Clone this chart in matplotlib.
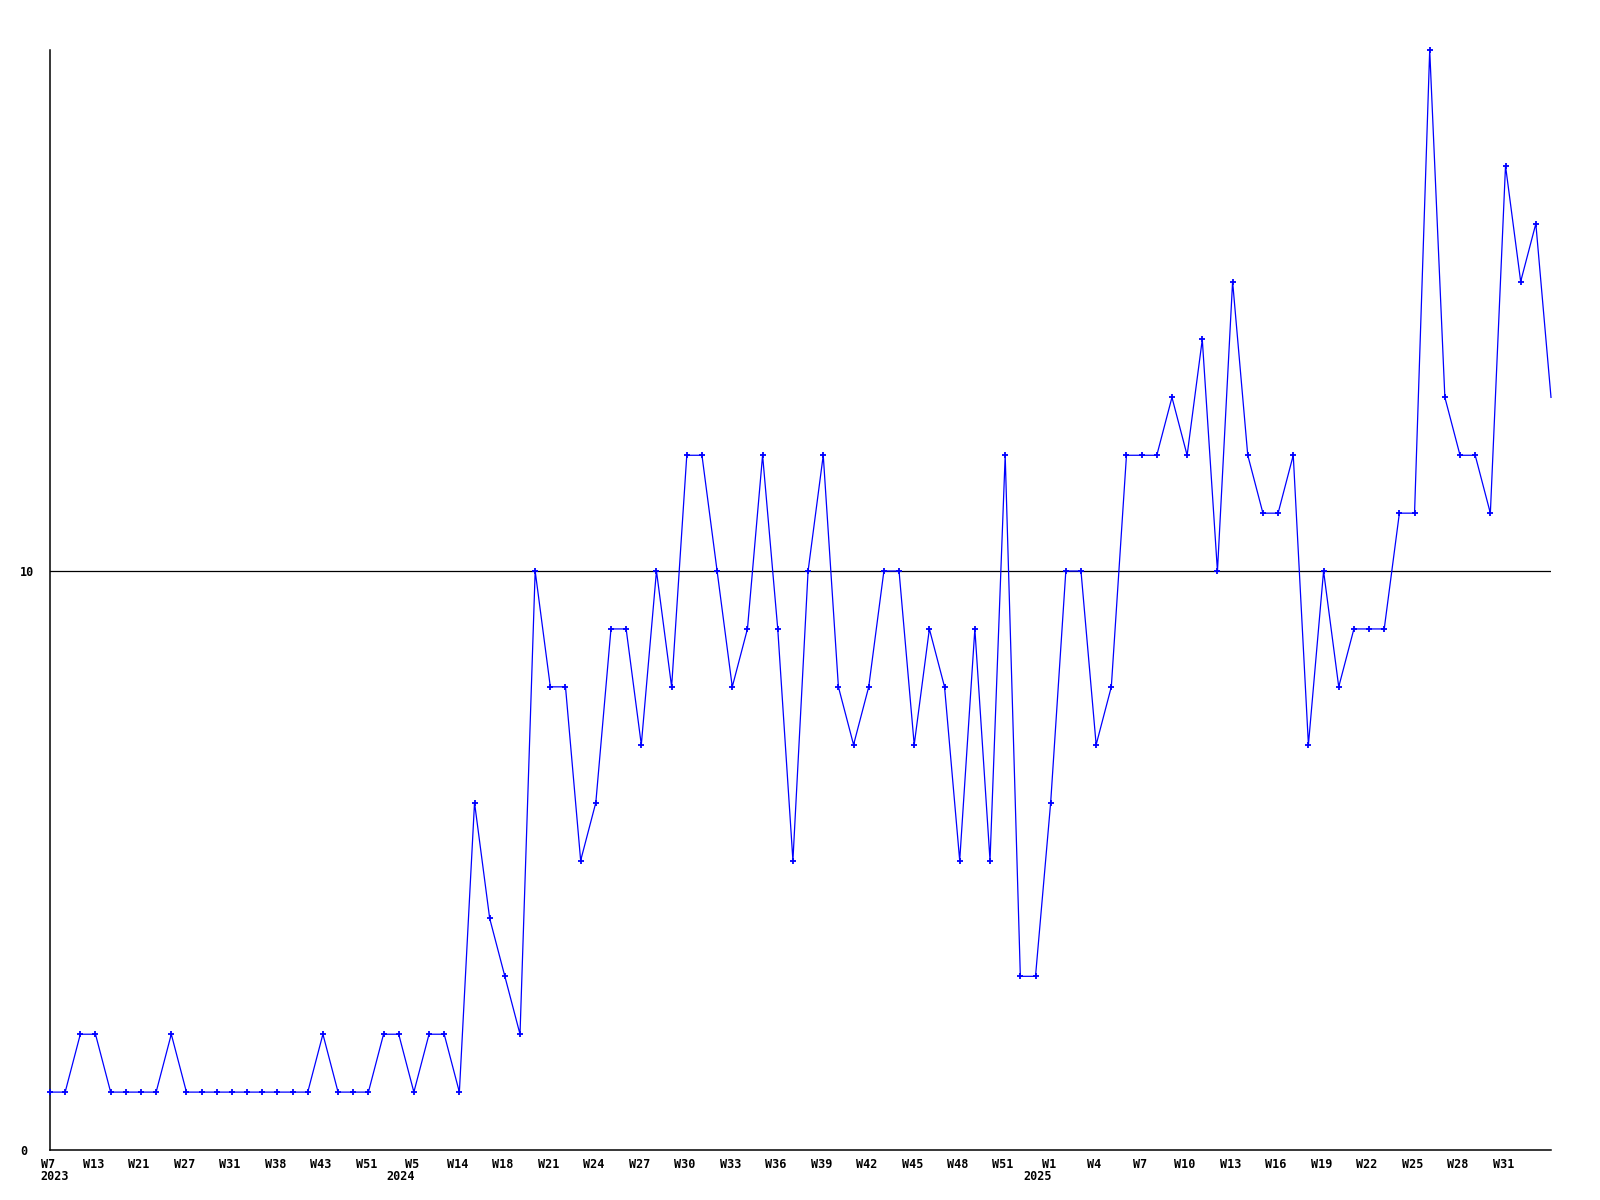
import matplotlib
matplotlib.use("Agg")
import matplotlib.pyplot as plt
import matplotlib.transforms as mtransforms

values = [1, 1, 2, 2, 1, 1, 1, 1, 2, 1,
          1, 1, 1, 1, 1, 1, 1, 1, 2, 1,
          1, 1, 2, 2, 1, 2, 2, 1, 6, 4,
          3, 2, 10, 8, 8, 5, 6, 9, 9, 7,
          10, 8, 12, 12, 10, 8, 9, 12, 9, 5,
          10, 12, 8, 7, 8, 10, 10, 7, 9, 8,
          5, 9, 5, 12, 3, 3, 6, 10, 10, 7,
          8, 12, 12, 12, 13, 12, 14, 10, 15, 12,
          11, 11, 12, 7, 10, 8, 9, 9, 9, 11,
          11, 19, 13, 12, 12, 11, 17, 15, 16, 13]

tick_labels = ["W7", "W13", "W21", "W27", "W31", "W38", "W43", "W51", "W5",
               "W14", "W18", "W21", "W24", "W27", "W30", "W33", "W36", "W39",
               "W42", "W45", "W48", "W51", "W1", "W4", "W7", "W10", "W13",
               "W16", "W19", "W22", "W25", "W28", "W31"]
tick_step = 3
year_labels = ["2023", "2024", "2025"]
year_tick_index = [0, 24, 66]

y_ticks = [0, 10]

fig = plt.figure(figsize=(16, 12), dpi=100)
ax = fig.add_axes([50 / 1600, 50 / 1200, 1501 / 1600, 1100 / 1200])

x = list(range(len(values)))
ax.plot(x, values, color="#0000ff", linewidth=0.9, marker="+",
        markersize=4, markeredgewidth=1.3, markevery=list(range(len(values) - 1)),
        clip_on=False, zorder=3)

ax.axhline(10, color="black", linewidth=0.9, zorder=2)

ax.set_xlim(0, len(values) - 1)
ax.set_ylim(0, max(values))

for s in ["top", "right"]:
    ax.spines[s].set_visible(False)
for s in ["left", "bottom"]:
    ax.spines[s].set_linewidth(1.1)
    ax.spines[s].set_color("black")

font = dict(family="DejaVu Sans Mono", weight="bold", size=8.5)

ax.set_xticks([i * tick_step for i in range(len(tick_labels))])
ax.set_xticklabels(tick_labels, **font)
ax.tick_params(axis="x", length=0, pad=6)
shift = mtransforms.ScaledTranslation(-2 / 100, 0, fig.dpi_scale_trans)
for lbl in ax.get_xticklabels():
    lbl.set_transform(lbl.get_transform() + shift)

ax.set_yticks(y_ticks)
ax.set_yticklabels([str(v) for v in y_ticks], ha="left", **font)
ax.tick_params(axis="y", length=0, pad=21.6)

trans = mtransforms.blended_transform_factory(ax.transData, ax.transAxes)
for lab, idx in zip(year_labels, year_tick_index):
    if idx == 0:
        ax.text(idx, 0, lab, transform=trans + mtransforms.ScaledTranslation(-10 / 100, -27 / 100, fig.dpi_scale_trans),
                ha="left", va="center", **font)
    else:
        ax.text(idx, 0, lab, transform=trans + mtransforms.ScaledTranslation(1 / 100, -27 / 100, fig.dpi_scale_trans),
                ha="right", va="center", **font)

fig.savefig("out.png", dpi=100, facecolor="white")
